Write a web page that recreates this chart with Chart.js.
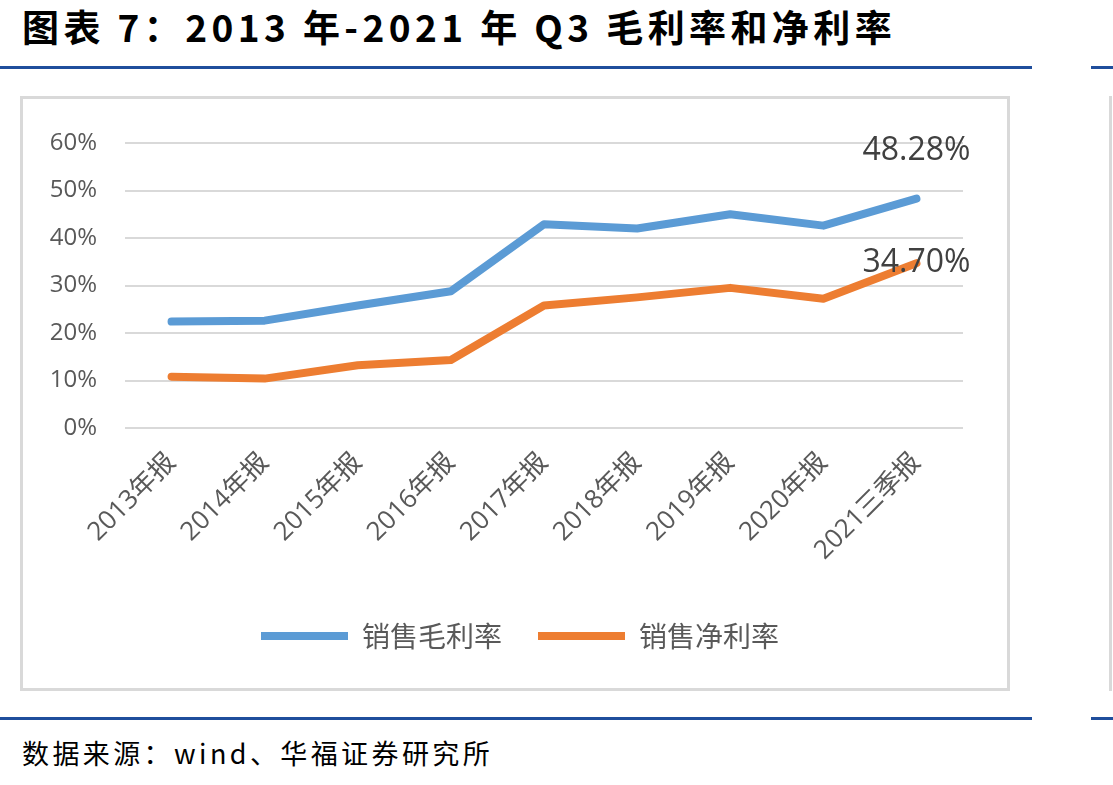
<!DOCTYPE html>
<html>
<head>
<meta charset="utf-8">
<script src="https://cdn.jsdelivr.net/npm/chart.js@4.4.1/dist/chart.umd.min.js"></script>
<style>
  html, body { margin: 0; padding: 0; background: #fff; }
  body { width: 1113px; height: 785px; position: relative; overflow: hidden; }
  #title { position: absolute; left: 22px; top: -1px; font-family: "Noto Sans CJK SC", sans-serif; font-weight: 700; font-size: 37px; color: #000; white-space: nowrap; letter-spacing: 4.4px; }
  .rule { position: absolute; height: 3px; background: #1F4E9C; }
  #box { position: absolute; left: 20px; top: 96px; width: 990px; height: 595px; border: 3px solid #D9D9D9; box-sizing: border-box; }
  #vline { position: absolute; left: 1109px; top: 96px; width: 3px; height: 595px; background: #D9D9D9; }
  #footer { position: absolute; left: 22px; top: 733px; font-family: "Noto Sans CJK SC", sans-serif; font-size: 27px; color: #000; white-space: nowrap; letter-spacing: 3.4px; }
  #c { position: absolute; left: 23px; top: 99px; }
</style>
</head>
<body>
<div id="title">图表 7：2013 年-2021 年 Q3 毛利率和净利率</div>
<div class="rule" style="left:0; top:66px; width:1032px;"></div>
<div class="rule" style="left:1091px; top:66px; width:22px;"></div>
<div id="box"></div>
<div id="vline"></div>
<canvas id="c" width="984" height="589"></canvas>
<div class="rule" style="left:0; top:717px; width:1032px;"></div>
<div class="rule" style="left:1091px; top:717px; width:22px;"></div>
<div id="footer">数据来源：wind、华福证券研究所</div>
<script>
const categories = ["2013年报", "2014年报", "2015年报", "2016年报", "2017年报", "2018年报", "2019年报", "2020年报", "2021三季报"];
const grossMargin = [22.4, 22.6, 25.8, 28.8, 42.9, 42.0, 45.0, 42.6, 48.28];
const netMargin = [10.8, 10.4, 13.2, 14.3, 25.8, 27.5, 29.5, 27.2, 34.70];
const seriesNames = ["销售毛利率", "销售净利率"];
const yTicks = [0, 10, 20, 30, 40, 50, 60];

const lastLabelPlugin = {
  id: 'lastLabel',
  afterDatasetsDraw(chart, args, opts) {
    const ctx = chart.ctx;
    ctx.save();
    ctx.font = '32px "Open Sans"';
    ctx.fillStyle = '#404040';
    ctx.textAlign = 'center';
    ctx.textBaseline = 'middle';
    chart.data.datasets.forEach((ds, i) => {
      const meta = chart.getDatasetMeta(i);
      const n = ds.data.length - 1;
      const pt = meta.data[n];
      const dy = opts.offsets[i] || 0;
      ctx.fillText(ds.data[n].toFixed(2) + '%', pt.x, pt.y + dy);
    });
    ctx.restore();
  }
};

const legendShiftPlugin = {
  id: 'legendShift',
  afterLayout(chart, args, opts) {
    const lg = chart.legend;
    if (lg) { lg.left += opts.dx; lg.right += opts.dx; }
  }
};

const lineStyle = { borderWidth: 8, borderCapStyle: 'round', borderJoinStyle: 'round', tension: 0, pointRadius: 0, pointHoverRadius: 0, fill: false };

new Chart(document.getElementById('c'), {
  type: 'line',
  data: {
    labels: categories,
    datasets: [
      Object.assign({ label: seriesNames[0], data: grossMargin, borderColor: '#5B9BD5', backgroundColor: '#5B9BD5' }, lineStyle),
      Object.assign({ label: seriesNames[1], data: netMargin, borderColor: '#ED7D31', backgroundColor: '#ED7D31' }, lineStyle)
    ]
  },
  options: {
    responsive: false,
    animation: false,
    devicePixelRatio: 1,
    layout: { padding: { top: 44, right: 44, left: 0, bottom: 28 } },
    scales: {
      x: {
        offset: true,
        grid: { display: false },
        border: { display: false },
        ticks: {
          color: '#595959',
          font: { family: '"Open Sans", "Noto Sans CJK SC"', size: 26 },
          maxRotation: 45, minRotation: 45, padding: 11, autoSkip: false
        },
        afterFit(scale) { scale.height = 158; }
      },
      y: {
        min: yTicks[0], max: yTicks[yTicks.length - 1],
        grid: { color: '#D9D9D9', lineWidth: 2, drawTicks: false },
        border: { display: false },
        ticks: {
          stepSize: yTicks[1] - yTicks[0],
          color: '#595959',
          font: { family: '"Open Sans"', size: 24 },
          padding: 28,
          callback: v => v + '%'
        },
        afterFit(scale) { scale.width = 102; }
      }
    },
    plugins: {
      legend: {
        position: 'bottom',
        labels: {
          usePointStyle: true,
          pointStyle: 'line',
          pointStyleWidth: 87,
          color: '#595959',
          font: { family: '"Noto Sans CJK SC"', size: 28 },
          padding: 36
        }
      },
      tooltip: { enabled: false },
      lastLabel: { offsets: [-48, 0] },
      legendShift: { dx: 27 }
    }
  },
  plugins: [lastLabelPlugin, legendShiftPlugin]
});
</script>
</body>
</html>
